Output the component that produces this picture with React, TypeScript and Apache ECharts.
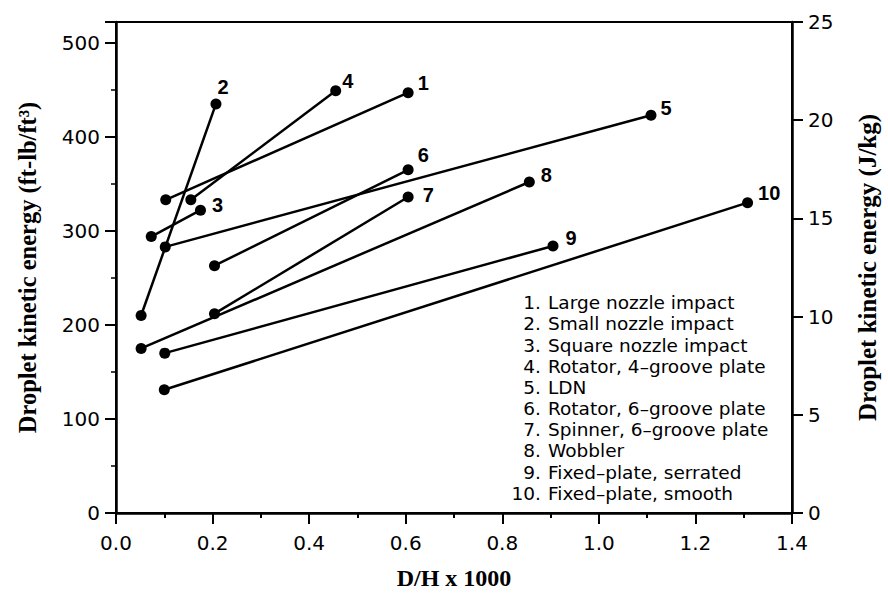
import React, { useEffect, useRef } from "react";
import * as echarts from "echarts";

// Methods (legend text)
const methods = [
  "Large nozzle impact",
  "Small nozzle impact",
  "Square nozzle impact",
  "Rotator, 4\u2013groove plate",
  "LDN",
  "Rotator, 6\u2013groove plate",
  "Spinner, 6\u2013groove plate",
  "Wobbler",
  "Fixed\u2013plate, serrated",
  "Fixed\u2013plate, smooth",
];
// D/H x 1000 at the two ends of each line
const dhStart = [0.103, 0.052, 0.073, 0.155, 0.102, 0.204, 0.204, 0.052, 0.101, 0.1];
const dhEnd = [0.605, 0.207, 0.175, 0.455, 1.108, 0.605, 0.605, 0.856, 0.905, 1.308];
// Droplet kinetic energy (ft-lb/ft3) at the two ends
const keStart = [333, 210, 294, 333, 283, 263, 212, 175, 170, 131];
const keEnd = [447, 435, 322, 449, 423, 365, 336, 352, 284, 330];

const xTicks = [0, 0.2, 0.4, 0.6, 0.8, 1.0, 1.2, 1.4];
const J_PER_KG_PER_FTLB_FT3 = 0.04788;
const rightMax = 25;

// label offsets (style)
const labelOffsets: [number, number][] = [
  [-1, -10], [-9, -17], [1, -5], [-4, -10], [-1, -7],
  [-1, -15], [4, -2], [1, -7], [2, -8], [0, -10],
];

export default function App() {
  const ref = useRef<HTMLDivElement>(null);
  useEffect(() => {
    document.body.style.margin = "0";
    const chart = echarts.init(ref.current!, null, { renderer: "svg" });
    const sans = "DejaVu Sans";
    const serif = "Liberation Serif";
    const series = methods.map((m, i) => ({
      type: "line",
      name: m,
      symbol: "circle",
      symbolSize: 11,
      itemStyle: { color: "#000" },
      lineStyle: { color: "#000", width: 2.5 },
      label: { show: false },
      data: [
        [dhStart[i], keStart[i]],
        {
          value: [dhEnd[i], keEnd[i]],
          label: {
            show: true,
            formatter: String(i + 1),
            position: "right",
            offset: labelOffsets[i],
            fontFamily: "Liberation Sans",
            fontWeight: "bold",
            fontSize: 20,
            color: "#000",
          },
        },
      ],
      z: 3,
    }));
    const legendY0 = 302.7;
    const legendStep = 21.18;
    const graphics: any[] = [];
    methods.forEach((m, i) => {
      graphics.push({
        type: "text",
        x: 541,
        y: legendY0 + i * legendStep,
        style: {
          text: `${i + 1}.`,
          align: "right",
          verticalAlign: "middle",
          fontFamily: sans,
          fontSize: 18.5,
          fill: "#000",
        },
      });
      graphics.push({
        type: "text",
        x: 548,
        y: legendY0 + i * legendStep,
        style: {
          text: m,
          align: "left",
          verticalAlign: "middle",
          fontFamily: sans,
          fontSize: 18.5,
          fill: "#000",
        },
      });
    });
    chart.setOption({
      animation: false,
      backgroundColor: "#fff",
      grid: {
        left: 116,
        right: 94,
        top: 22,
        bottom: 82,
        show: true,
        borderColor: "#000",
        borderWidth: 2,
      },
      xAxis: {
        type: "value",
        min: xTicks[0],
        max: xTicks[xTicks.length - 1],
        interval: 0.2,
        axisLine: { show: true, onZero: false, lineStyle: { color: "#000", width: 2.5 } },
        axisTick: { show: true, length: 11, lineStyle: { color: "#000", width: 2 } },
        minorTick: { show: true, splitNumber: 2, length: 5, lineStyle: { color: "#000", width: 2 } },
        splitLine: { show: false },
        axisLabel: {
          formatter: (v: number) => v.toFixed(1),
          fontFamily: sans,
          fontSize: 20,
          color: "#000",
          margin: 20,
        },
        name: "D/H x 1000",
        nameLocation: "middle",
        nameGap: 53,
        nameTextStyle: { fontFamily: serif, fontWeight: "bold", fontSize: 24, color: "#000" },
      },
      yAxis: [
        {
          type: "value",
          position: "left",
          min: 0,
          max: rightMax / J_PER_KG_PER_FTLB_FT3,
          interval: 100,
          axisLine: { show: true, lineStyle: { color: "#000", width: 2.5 } },
          axisTick: { show: true, length: 11, lineStyle: { color: "#000", width: 2 } },
          minorTick: { show: true, splitNumber: 2, length: 5, lineStyle: { color: "#000", width: 1.5 } },
          splitLine: { show: false },
          axisLabel: {
            formatter: (v: number) => (Math.abs(v % 100) < 1e-6 ? String(v) : ""),
            fontFamily: sans,
            fontSize: 20,
            color: "#000",
            margin: 16,
          },
          name: "Droplet kinetic energy (ft-lb/ft\u00b3)",
          nameLocation: "middle",
          nameRotate: 90,
          nameGap: 76,
          nameTextStyle: { fontFamily: serif, fontWeight: "bold", fontSize: 24.5, color: "#000" },
        },
        {
          type: "value",
          position: "right",
          min: 0,
          max: rightMax,
          interval: 5,
          axisLine: { show: true, lineStyle: { color: "#000", width: 2.5 } },
          axisTick: { show: true, length: 11, lineStyle: { color: "#000", width: 2 } },
          splitLine: { show: false },
          axisLabel: { fontFamily: sans, fontSize: 20, color: "#000", margin: 16 },
          name: "Droplet kinetic energy (J/kg)",
          nameLocation: "middle",
          nameRotate: 90,
          nameGap: 63,
          nameTextStyle: { fontFamily: serif, fontWeight: "bold", fontSize: 25, color: "#000" },
        },
      ],
      series,
      graphic: graphics,
    });
    return () => chart.dispose();
  }, []);
  return <div ref={ref} style={{ width: 888, height: 595 }} />;
}
